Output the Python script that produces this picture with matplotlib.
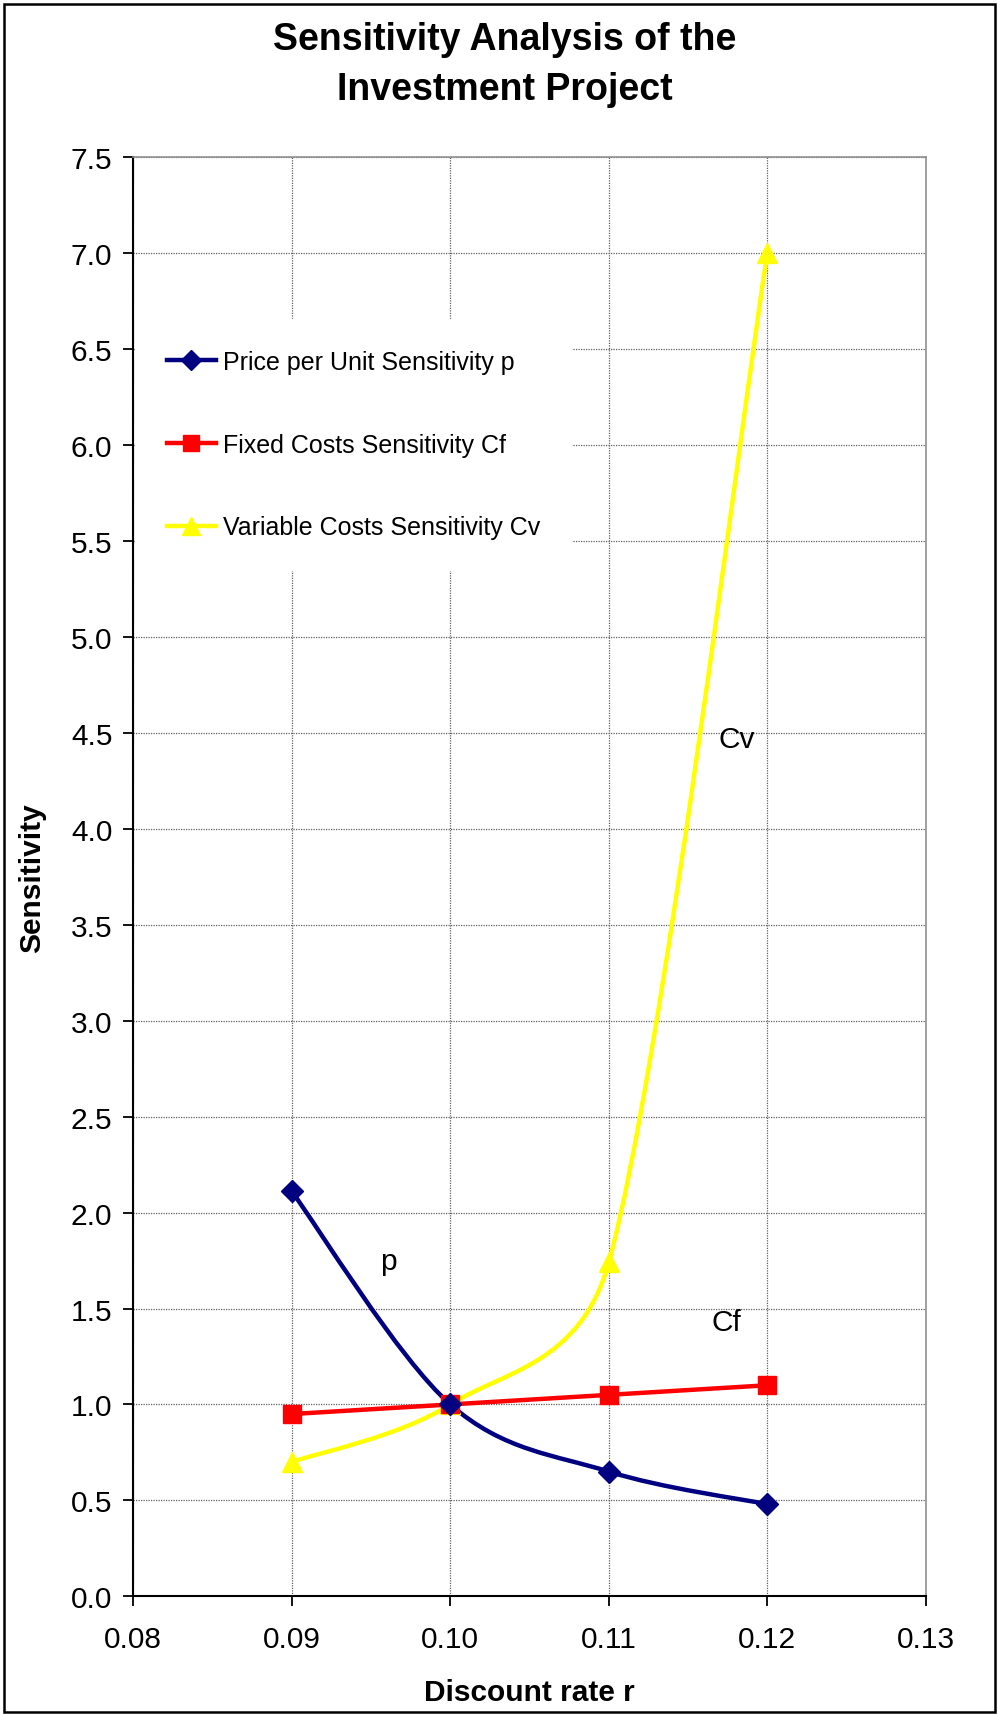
import numpy as np
import matplotlib
matplotlib.use("Agg")
import matplotlib.pyplot as plt
from matplotlib.path import Path
from matplotlib.patches import PathPatch, Rectangle
from matplotlib.lines import Line2D

plt.rcParams['font.family'] = ['Liberation Sans', 'DejaVu Sans']

# ---- data ----
rates = [0.09, 0.10, 0.11, 0.12]
price_p = [2.11, 1.00, 0.65, 0.48]
fixed_cf = [0.95, 1.00, 1.05, 1.10]
variable_cv = [0.70, 1.00, 1.74, 7.00]
series_names = ["Price per Unit Sensitivity p",
                "Fixed Costs Sensitivity Cf",
                "Variable Costs Sensitivity Cv"]
x_ticks = [0.08, 0.09, 0.10, 0.11, 0.12, 0.13]
y_ticks = [0.0, 0.5, 1.0, 1.5, 2.0, 2.5, 3.0, 3.5, 4.0, 4.5, 5.0, 5.5, 6.0, 6.5, 7.0, 7.5]

W, H = 998, 1715
fig = plt.figure(figsize=(W / 100, H / 100), dpi=100)
fig.patch.set_facecolor('white')

# figure border
fig.add_artist(Rectangle((3.5 / W, 2.5 / H), (W - 6.5) / W, (H - 7.5) / H,
                         transform=fig.transFigure, fill=False,
                         edgecolor='black', linewidth=1.8))

L, R, T, B = 133.3, 925.8, 158.4, 1597.3
ax = fig.add_axes([L / W, 1 - B / H, (R - L) / W, (B - T) / H])
ax.set_xlim(0.08, 0.13)
ax.set_ylim(0.0, 7.5)
ax.set_xticks(x_ticks)
ax.set_xticklabels([f"{v:.2f}" for v in x_ticks])
ax.set_yticks(y_ticks)
ax.set_yticklabels([f"{v:.1f}" for v in y_ticks])
ax.tick_params(axis='both', labelsize=21.5, length=7, width=1.3, direction='out',
               color='black')
ax.tick_params(axis='y', pad=8)
ax.tick_params(axis='x', pad=14)
ax.grid(True, color='#606060', linestyle=(0, (1, 1)), linewidth=0.9)
ax.set_axisbelow(True)
for s in ['left', 'bottom']:
    ax.spines[s].set_color('black')
    ax.spines[s].set_linewidth(1.5)
for s in ['top', 'right']:
    ax.spines[s].set_color('#909090')
    ax.spines[s].set_linewidth(1.2)

ax.set_xlabel("Discount rate r", fontsize=21.5, fontweight='bold', labelpad=18)
ax.set_ylabel("Sensitivity", fontsize=21.5, fontweight='bold', labelpad=18)
fig.text(505 / W, 1 - 65 / H, "Sensitivity Analysis of the\nInvestment Project",
         ha='center', va='center', fontsize=27, fontweight='bold',
         linespacing=1.5)


def excel_smooth(ax, xs, ys, color, lw):
    pts = ax.transData.transform(np.column_stack([xs, ys]))
    n = len(pts)
    verts = [pts[0]]
    codes = [Path.MOVETO]
    for i in range(n - 1):
        p0 = pts[i - 1] if i > 0 else pts[i]
        p1 = pts[i]
        p2 = pts[i + 1]
        p3 = pts[i + 2] if i + 2 < n else pts[i + 1]
        d12 = np.hypot(*(p2 - p1))
        d02 = np.hypot(*(p2 - p0))
        d13 = np.hypot(*(p3 - p1))
        f1 = 1 / 6 if d02 == 0 else min(1 / 6, d12 / 2 / d02)
        f2 = 1 / 6 if d13 == 0 else min(1 / 6, d12 / 2 / d13)
        c1 = p1 + f1 * (p2 - p0)
        c2 = p2 - f2 * (p3 - p1)
        verts += [c1, c2, p2]
        codes += [Path.CURVE4] * 3
    inv = ax.transData.inverted()
    verts = inv.transform(np.array(verts))
    patch = PathPatch(Path(verts, codes), fill=False, edgecolor=color,
                      linewidth=lw, capstyle='round', joinstyle='round', zorder=3)
    ax.add_patch(patch)


navy, red, yellow = '#000080', '#FF0000', '#FFFF00'
lw = 3.2
excel_smooth(ax, rates, variable_cv, yellow, lw)
excel_smooth(ax, rates, fixed_cf, red, lw)
excel_smooth(ax, rates, price_p, navy, lw)
ax.plot(rates, variable_cv, linestyle='none', marker='^', markersize=15,
        color=yellow, zorder=4)
ax.plot(rates, fixed_cf, linestyle='none', marker='s', markersize=13.5,
        color=red, zorder=5)
ax.plot(rates, price_p, linestyle='none', marker='D', markersize=11.5,
        color=navy, zorder=6)

# series labels
ax.text(0.0961, 1.75, "p", fontsize=21.5, ha='center', va='center', zorder=7)
ax.text(0.1174, 1.43, "Cf", fontsize=21.5, ha='center', va='center', zorder=7)
ax.text(0.1181, 4.47, "Cv", fontsize=21.5, ha='center', va='center', zorder=7)

fs_leg = 18
handles = [
    Line2D([], [], color=navy, lw=lw, marker='D', markersize=10),
    Line2D([], [], color=red, lw=lw, marker='s', markersize=11.5),
    Line2D([], [], color=yellow, lw=lw, marker='^', markersize=13),
]
leg = ax.legend(handles, series_names, loc='upper left',
                bbox_to_anchor=((136 - L) / (R - L), (B - 320) / (B - T)),
                frameon=True, fancybox=False, framealpha=1.0,
                edgecolor='white', facecolor='white', fontsize=fs_leg,
                handlelength=1.95, handletextpad=0.3, labelspacing=2.35,
                borderpad=1.23, borderaxespad=0)
leg.set_zorder(8)

fig.savefig("out.png", dpi=100, facecolor='white')
